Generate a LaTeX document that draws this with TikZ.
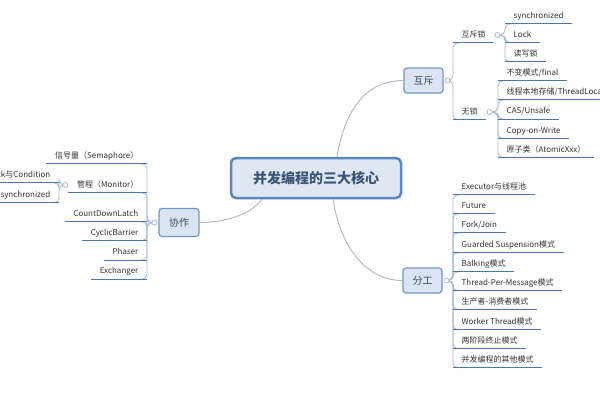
\documentclass[tikz,border=0pt]{standalone}
\usepackage{fontspec}
\setmainfont{Noto Sans CJK SC}
\definecolor{txt}{HTML}{333333}
\definecolor{topictxt}{HTML}{3A4A60}
\definecolor{coretxt}{HTML}{3B5577}
\definecolor{ulinec}{HTML}{4F76AE}
\definecolor{connc}{HTML}{A9BBD2}
\definecolor{mainc}{HTML}{B4BCC8}
\definecolor{topicfill}{HTML}{DBE5F1}
\definecolor{topicdraw}{HTML}{7396C6}
\definecolor{corefill}{HTML}{DFE7F2}
\definecolor{coredraw}{HTML}{5A86C2}
\pgfdeclarelayer{bbg}
\pgfdeclarelayer{bg}
\pgfsetlayers{bbg,bg,main}
\tikzset{
  leaf/.style={font=\fontsize{8}{9}\selectfont, text=txt, inner xsep=8.5pt, inner ysep=0pt,
    minimum height=15pt, text height=6pt, text depth=1.5pt},
  uline/.style={draw=ulinec, line width=1.3pt},
  conn/.style={draw=connc, line width=0.9pt, rounded corners=5pt},
  mainconn/.style={draw=mainc, line width=1pt},
  dot/.style={circle, draw=connc, fill=white, line width=0.8pt, inner sep=0pt, minimum size=5pt},
  topic/.style={draw=topicdraw, fill=topicfill, line width=1.2pt, rounded corners=3pt,
    font=\fontsize{10}{12}\selectfont, text=topictxt, inner sep=0pt},
  core/.style={draw=coredraw, fill=corefill, line width=2.5pt, rounded corners=5pt,
    font=\fontsize{14}{16}\selectfont\bfseries, text=coretxt, inner sep=0pt,
    minimum width=170pt, minimum height=40pt}
}
\newcommand\rleaf[4]{%
  \node[leaf,anchor=west] (#1) at (#2,#3) {#4};
  \draw[uline] (#1.south west) -- (#1.south east);}
\newcommand\lleaf[4]{%
  \node[leaf,anchor=east] (#1) at (#2,#3) {#4};
  \draw[uline] (#1.south east) -- (#1.south west);}
\newcommand\rlink[2]{%
  \begin{pgfonlayer}{bg}
  \draw[conn] (#1.east) -- (#1.east -| #2.south west) |- ([xshift=8pt]#2.south west);
  \end{pgfonlayer}}
\newcommand\llink[2]{%
  \begin{pgfonlayer}{bg}
  \draw[conn] (#1.west) -- (#1.west -| #2.south east) |- ([xshift=-8pt]#2.south east);
  \end{pgfonlayer}}
\begin{document}
\begin{tikzpicture}[x=1pt,y=-1pt]
\begin{pgfonlayer}{bbg}
\fill[white] (0,0) rectangle (600,400);
\end{pgfonlayer}
\useasboundingbox (0,0) rectangle (600,400);

% main topics
\node[core] (core) at (316,178) {并发编程的三大核心};
\node[topic, minimum width=39pt, minimum height=25pt] (hc) at (423.5,80.5) {互斥};
\node[topic, minimum width=39pt, minimum height=25pt] (fg) at (422.5,280.5) {分工};
\node[topic, minimum width=40pt, minimum height=28pt] (xz) at (179,222.5) {协作};

\node[dot] (hcc) at ([xshift=4pt]hc.east) {};
\node[dot] (fgc) at ([xshift=4pt]fg.east) {};
\node[dot] (xzc) at ([xshift=-4pt]xz.west) {};

\begin{pgfonlayer}{bg}
\draw[mainconn] ([xshift=21pt]core.north) .. controls (345,110) and (365,81) .. (hc.west);
\draw[mainconn] ([xshift=17pt]core.south) .. controls (340,245) and (365,280.5) .. (fg.west);
\draw[mainconn] ([xshift=-54pt]core.south) .. controls (250,215) and (225,222.5) .. (xz.east);
\end{pgfonlayer}

% ---- 互斥
\rleaf{hsl}{453}{35}{互斥锁}
\rleaf{wl}{453}{112}{无锁}
\rlink{hcc}{hsl}
\rlink{hcc}{wl}
\node[dot] (hslc) at ([xshift=3pt]hsl.east) {};
\node[dot] (wlc) at ([xshift=3pt]wl.east) {};

\rleaf{sa}{505}{16}{synchronized}
\rleaf{sb}{505}{35}{Lock}
\rleaf{sc}{505}{54}{读写锁}
\rlink{hslc}{sa}
\rlink{hslc}{sb}
\rlink{hslc}{sc}

\rleaf{wa}{498}{73}{不变模式/final}
\rleaf{wb}{498}{92}{线程本地存储/ThreadLocal}
\rleaf{wc}{498}{111.5}{CAS/Unsafe}
\rleaf{wd}{498}{131}{Copy-on-Write}
\rleaf{we}{498}{150}{原子类（AtomicXxx）}
\rlink{wlc}{wa}
\rlink{wlc}{wb}
\rlink{wlc}{wc}
\rlink{wlc}{wd}
\rlink{wlc}{we}

% ---- 分工
\rleaf{f1}{453}{187}{Executor与线程池}
\rleaf{f2}{453}{206}{Future}
\rleaf{f3}{453}{225}{Fork/Join}
\rleaf{f4}{453}{245}{Guarded Suspension模式}
\rleaf{f5}{453}{264}{Balking模式}
\rleaf{f6}{453}{283}{Thread-Per-Message模式}
\rleaf{f7}{453}{302}{生产者-消费者模式}
\rleaf{f8}{453}{322}{Worker Thread模式}
\rleaf{f9}{453}{341}{两阶段终止模式}
\rleaf{f10}{453}{360}{并发编程的其他模式}
\foreach \i in {1,...,10} {\rlink{fgc}{f\i}}

% ---- 协作
\lleaf{x1}{147}{156}{信号量（Semaphore）}
\lleaf{x2}{147}{185}{管程（Monitor）}
\lleaf{x3}{147}{214}{CountDownLatch}
\lleaf{x4}{147}{233}{CyclicBarrier}
\lleaf{x5}{147}{252.5}{Phaser}
\lleaf{x6}{147}{271.5}{Exchanger}
\foreach \i in {1,...,6} {\llink{xzc}{x\i}}
\node[dot] (x2c) at ([xshift=-3pt]x2.west) {};

\lleaf{m1}{59}{175}{Lock与Condition}
\lleaf{m2}{59}{195}{synchronized}
\llink{x2c}{m1}
\llink{x2c}{m2}
\end{tikzpicture}
\end{document}
